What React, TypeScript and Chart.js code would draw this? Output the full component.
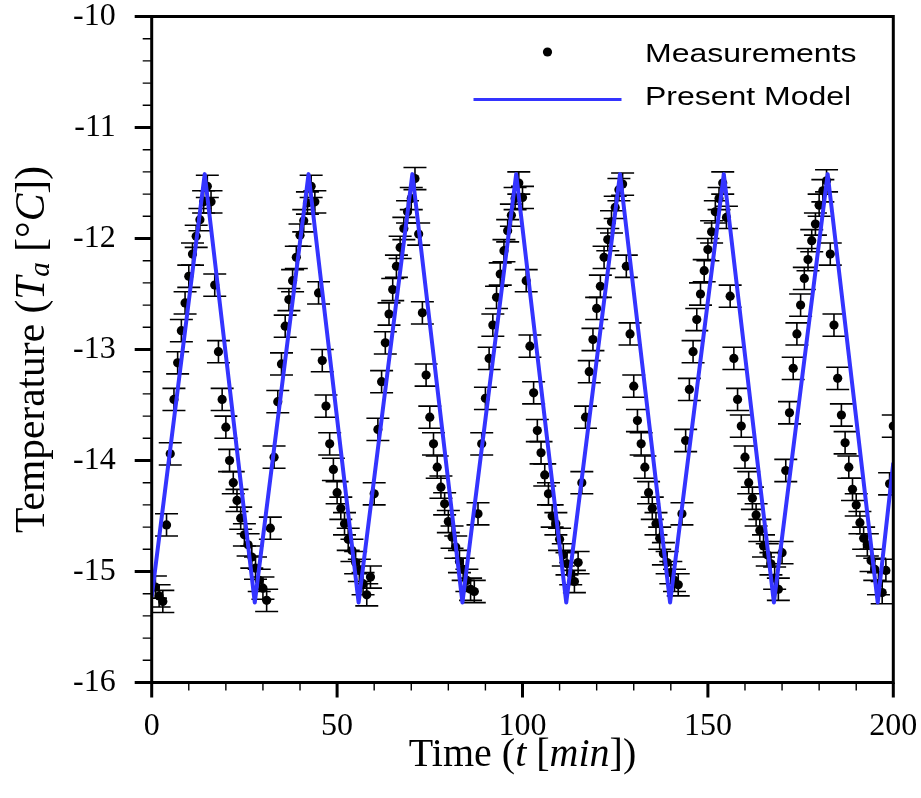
import React, { useEffect, useRef } from "react";
import { Chart, registerables } from "chart.js";

Chart.register(...registerables);

// ---------- data ----------
const measurementTimes = [
  1, 2, 3, 4, 5, 6, 7, 8, 9, 10, 11, 12, 13, 14, 15, 16, 17, 18, 19, 20,
  21, 22, 23, 24, 25, 26, 27, 28, 29, 30, 31, 32, 33, 34, 35, 36, 37, 38, 39, 40,
  41, 42, 43, 44, 45, 46, 47, 48, 49, 50, 51, 52, 53, 54, 55, 56, 57, 58, 59, 60,
  61, 62, 63, 64, 65, 66, 67, 68, 69, 70, 71, 72, 73, 74, 75, 76, 77, 78, 79, 80,
  81, 82, 83, 84, 85, 86, 87, 88, 89, 90, 91, 92, 93, 94, 95, 96, 97, 98, 99, 100,
  101, 102, 103, 104, 105, 106, 107, 108, 109, 110, 111, 112, 113, 114, 115, 116, 117, 118, 119, 120,
  121, 122, 123, 124, 125, 126, 127, 128, 129, 130, 131, 132, 133, 134, 135, 136, 137, 138, 139, 140,
  141, 142, 143, 144, 145, 146, 147, 148, 149, 150, 151, 152, 153, 154, 155, 156, 157, 158, 159, 160,
  161, 162, 163, 164, 165, 166, 167, 168, 169, 170, 171, 172, 173, 174, 175, 176, 177, 178, 179, 180,
  181, 182, 183, 184, 185, 186, 187, 188, 189, 190, 191, 192, 193, 194, 195, 196, 197, 198, 199, 200,
];

const measuredTemps = [
  -15.14, -15.22, -15.27, -14.58, -13.94, -13.45, -13.12, -12.83, -12.58, -12.34,
  -12.14, -11.98, -11.83, -11.67, -11.53, -11.67, -12.42, -13.02, -13.45, -13.70,
  -14.00, -14.20, -14.36, -14.52, -14.67, -14.76, -14.87, -14.97, -15.08, -15.15,
  -15.26, -14.61, -13.97, -13.47, -13.13, -12.79, -12.55, -12.38, -12.17, -11.97,
  -11.84, -11.68, -11.53, -11.67, -12.49, -13.10, -13.51, -13.85, -14.08, -14.29,
  -14.43, -14.57, -14.71, -14.81, -14.92, -14.99, -15.11, -15.21, -15.05, -14.30,
  -13.72, -13.29, -12.94, -12.68, -12.46, -12.25, -12.08, -11.91, -11.76, -11.64,
  -11.46, -11.96, -12.67, -13.23, -13.61, -13.85, -14.06, -14.24, -14.39, -14.55,
  -14.69, -14.78, -14.91, -14.98, -15.08, -15.16, -15.18, -14.48, -13.85, -13.44,
  -13.08, -12.78, -12.53, -12.32, -12.11, -11.93, -11.79, -11.64, -11.50, -11.63,
  -12.38, -12.97, -13.39, -13.73, -13.93, -14.13, -14.30, -14.50, -14.57, -14.71,
  -14.85, -14.93, -15.02, -15.09, -14.92, -14.20, -13.61, -13.20, -12.91, -12.63,
  -12.43, -12.17, -12.01, -11.85, -11.72, -11.56, -11.51, -12.25, -12.86, -13.33,
  -13.64, -13.85, -14.06, -14.29, -14.43, -14.57, -14.70, -14.84, -14.92, -15.01,
  -15.08, -15.12, -14.48, -13.82, -13.36, -13.02, -12.73, -12.50, -12.29, -12.10,
  -11.94, -11.76, -11.64, -11.50, -11.81, -12.52, -13.08, -13.45, -13.69, -13.97,
  -14.20, -14.34, -14.49, -14.63, -14.77, -14.85, -14.93, -15.06, -15.16, -14.83,
  -14.09, -13.57, -13.17, -12.86, -12.60, -12.36, -12.19, -12.02, -11.87, -11.70,
  -11.57, -11.48, -12.14, -12.78, -13.26, -13.59, -13.84, -14.06, -14.26, -14.40,
  -14.56, -14.70, -14.76, -14.90, -14.98, -15.11, -15.19, -14.99, -14.21, -13.69,
];

const measurementError = 0.1;

const modelTimes = [0, 14.3, 27.8, 42.3, 55.8, 70.3, 83.8, 98.3, 111.8, 126.3, 139.8, 154.3, 167.8, 182.3, 195.8, 200];
const modelTemps = [-15.23, -11.42, -15.28, -11.42, -15.28, -11.42, -15.28, -11.42, -15.28, -11.42, -15.28, -11.42, -15.28, -11.42, -15.28, -14.02];

const xTickValues = [0, 50, 100, 150, 200];
const xMinorTickValues = [10, 20, 30, 40, 60, 70, 80, 90, 110, 120, 130, 140, 160, 170, 180, 190];
const yTickValues = [-16, -15, -14, -13, -12, -11, -10];
const yMinorTickValues = [
  -15.8, -15.6, -15.4, -15.2, -14.8, -14.6, -14.4, -14.2, -13.8, -13.6, -13.4, -13.2,
  -12.8, -12.6, -12.4, -12.2, -11.8, -11.6, -11.4, -11.2, -10.8, -10.6, -10.4, -10.2,
];

const seriesNames = ["Measurements", "Present Model"];

// ---------- style ----------
const MODEL_COLOR = "#3434ff";
const SERIF = '"Liberation Serif", "Times New Roman", serif';
const SANS = '"Liberation Sans", Arial, sans-serif';

type Seg = { t: string; italic?: boolean; sub?: boolean };

function drawRich(ctx: CanvasRenderingContext2D, segs: Seg[], size: number, cx: number, baseline: number) {
  const subSize = size * 0.7;
  const fontOf = (s: Seg) => `${s.italic ? "italic " : ""}${s.sub ? subSize : size}px ${SERIF}`;
  let total = 0;
  const widths = segs.map((s) => {
    ctx.font = fontOf(s);
    const w = ctx.measureText(s.t).width;
    total += w;
    return w;
  });
  let x = cx - total / 2;
  ctx.textAlign = "left";
  ctx.textBaseline = "alphabetic";
  segs.forEach((s, i) => {
    ctx.font = fontOf(s);
    ctx.fillText(s.t, x, baseline + (s.sub ? size * 0.14 : 0));
    x += widths[i];
  });
}

const decorPlugin = {
  id: "decor",
  beforeDatasetsDraw(chart: any) {
    const { ctx, chartArea } = chart;
    const xs = chart.scales.x;
    const ys = chart.scales.y;
    ctx.save();
    ctx.beginPath();
    ctx.rect(chartArea.left, chartArea.top, chartArea.right - chartArea.left, chartArea.bottom - chartArea.top);
    ctx.clip();
    ctx.strokeStyle = "#000";
    ctx.lineWidth = 1.6;
    const cap = 11.5;
    measurementTimes.forEach((t, i) => {
      const v = measuredTemps[i];
      const px = xs.getPixelForValue(t);
      const y1 = ys.getPixelForValue(v - measurementError);
      const y2 = ys.getPixelForValue(v + measurementError);
      ctx.beginPath();
      ctx.moveTo(px, y1);
      ctx.lineTo(px, y2);
      ctx.moveTo(px - cap, y1);
      ctx.lineTo(px + cap, y1);
      ctx.moveTo(px - cap, y2);
      ctx.lineTo(px + cap, y2);
      ctx.stroke();
    });
    ctx.restore();
  },
  afterDraw(chart: any) {
    const { ctx, chartArea } = chart;
    const { left, right, top, bottom } = chartArea;
    const xs = chart.scales.x;
    const ys = chart.scales.y;
    ctx.save();
    ctx.strokeStyle = "#000";
    ctx.lineCap = "butt";

    // minor ticks
    ctx.lineWidth = 1.4;
    ctx.beginPath();
    yMinorTickValues.forEach((v) => {
      const py = ys.getPixelForValue(v);
      ctx.moveTo(left - 9, py);
      ctx.lineTo(left, py);
    });
    xMinorTickValues.forEach((v) => {
      const px = xs.getPixelForValue(v);
      ctx.moveTo(px, bottom);
      ctx.lineTo(px, bottom + 8);
    });
    ctx.stroke();

    // major ticks
    ctx.lineWidth = 3;
    ctx.beginPath();
    yTickValues.forEach((v) => {
      const py = ys.getPixelForValue(v);
      ctx.moveTo(left - 17, py);
      ctx.lineTo(left, py);
    });
    xTickValues.forEach((v) => {
      const px = xs.getPixelForValue(v);
      ctx.moveTo(px, bottom);
      ctx.lineTo(px, bottom + 15);
    });
    ctx.stroke();

    // frame
    ctx.lineWidth = 3;
    ctx.strokeRect(left, top, right - left, bottom - top);

    // axis titles
    ctx.fillStyle = "#000";
    drawRich(
      ctx,
      [{ t: "Time (" }, { t: "t", italic: true }, { t: " [" }, { t: "min", italic: true }, { t: "])" }],
      40,
      (left + right) / 2,
      766
    );
    ctx.save();
    ctx.translate(43.5, (top + bottom) / 2);
    ctx.rotate(-Math.PI / 2);
    drawRich(
      ctx,
      [
        { t: "Temperature (" },
        { t: "T", italic: true },
        { t: "a", italic: true, sub: true },
        { t: " [°" },
        { t: "C", italic: true },
        { t: "])" },
      ],
      41.5,
      0,
      0
    );
    ctx.restore();

    // legend
    const dotX = 547.5;
    ctx.fillStyle = "#000";
    ctx.beginPath();
    ctx.arc(dotX, 52, 4.6, 0, Math.PI * 2);
    ctx.fill();
    ctx.strokeStyle = MODEL_COLOR;
    ctx.lineWidth = 3;
    ctx.beginPath();
    ctx.moveTo(473.5, 99.5);
    ctx.lineTo(621.5, 99.5);
    ctx.stroke();
    ctx.fillStyle = "#000";
    ctx.font = `26px ${SANS}`;
    ctx.textAlign = "left";
    ctx.textBaseline = "alphabetic";
    [
      [seriesNames[0], 61.7],
      [seriesNames[1], 105],
    ].forEach(([txt, by]) => {
      ctx.save();
      ctx.translate(645, by as number);
      ctx.scale(1.23, 1);
      ctx.fillText(txt as string, 0, 0);
      ctx.restore();
    });
    ctx.restore();
  },
};

export default function App() {
  const ref = useRef<HTMLCanvasElement | null>(null);

  useEffect(() => {
    if (!ref.current) return;
    const chart = new Chart(ref.current, {
      type: "scatter",
      data: {
        datasets: [
          {
            type: "line",
            label: seriesNames[1],
            data: modelTimes.map((t, i) => ({ x: t, y: modelTemps[i] })),
            borderColor: MODEL_COLOR,
            backgroundColor: MODEL_COLOR,
            borderWidth: 4,
            borderJoinStyle: "round",
            pointRadius: 0,
            fill: false,
            tension: 0,
            order: 0,
          } as any,
          {
            type: "scatter",
            label: seriesNames[0],
            data: measurementTimes.map((t, i) => ({ x: t, y: measuredTemps[i] })),
            pointRadius: 4.6,
            pointBackgroundColor: "#000",
            pointBorderColor: "#000",
            pointBorderWidth: 0,
            showLine: false,
            order: 1,
          } as any,
        ],
      },
      options: {
        animation: false,
        responsive: false,
        devicePixelRatio: 1,
        layout: { padding: { left: 0, top: 16.5, right: 27.7, bottom: 0 } },
        plugins: { legend: { display: false }, tooltip: { enabled: false } },
        scales: {
          x: {
            type: "linear",
            min: 0,
            max: 200,
            afterBuildTicks: (s: any) => {
              s.ticks = xTickValues.map((v) => ({ value: v }));
            },
            afterFit: (s: any) => {
              s.height = 115.5;
              s.paddingLeft = 0;
              s.paddingRight = 0;
            },
            grid: { display: false, drawTicks: false },
            border: { display: false },
            ticks: {
              font: { family: SERIF, size: 32 },
              color: "#000",
              padding: 25,
              maxRotation: 0,
              autoSkip: false,
            },
          },
          y: {
            type: "linear",
            min: -16,
            max: -10,
            afterBuildTicks: (s: any) => {
              s.ticks = yTickValues.map((v) => ({ value: v }));
            },
            afterFit: (s: any) => {
              s.width = 151.7;
              s.paddingTop = 0;
              s.paddingBottom = 0;
            },
            grid: { display: false, drawTicks: false },
            border: { display: false },
            ticks: {
              font: { family: SERIF, size: 32 },
              color: "#000",
              padding: 36,
              autoSkip: false,
            },
          },
        },
      } as any,
      plugins: [decorPlugin],
    });
    return () => chart.destroy();
  }, []);

  return (
    <div style={{ position: "absolute", left: 0, top: 0, width: 921, height: 798, background: "#fff" }}>
      <canvas ref={ref} width={921} height={798} style={{ display: "block", width: 921, height: 798 }} />
    </div>
  );
}
